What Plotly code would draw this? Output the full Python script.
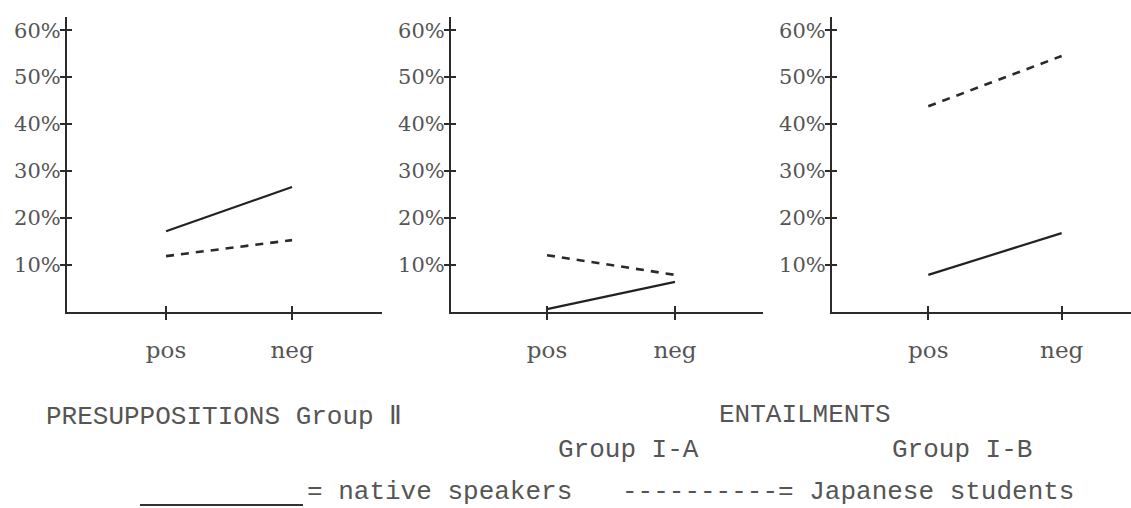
import plotly.graph_objects as go

W, H = 1131, 508

categories = ["pos", "neg"]
cat_x = [1, 2]
y_ticks = [10, 20, 30, 40, 50, 60]
y_tick_labels = ["10%", "20%", "30%", "40%", "50%", "60%"]

pres_native = [17.2, 26.6]
pres_japanese = [11.9, 15.3]
entA_native = [0.6, 6.4]
entA_japanese = [12.1, 7.9]
entB_native = [7.9, 16.8]
entB_japanese = [43.8, 54.5]

panel_native = [pres_native, entA_native, entB_native]
panel_japanese = [pres_japanese, entA_japanese, entB_japanese]

# layout geometry (pixels)
x_domains_px = [(67, 382), (451, 763), (832, 1131)]
x_ranges = [(0.214, 2.714), (0.25, 2.6875), (0.278, 2.52)]
y_dom = (1 - 312 / H, 1 - 17 / H)
y_range = (0, 62.8)

AX = "#2b2b2b"
TXT = "#555555"
MONO = "Liberation Mono, DejaVu Sans Mono, monospace"
SERIF = "DejaVu Serif, Liberation Serif, serif"

fig = go.Figure()
layout = dict(width=W, height=H, margin=dict(l=0, r=0, t=0, b=0, autoexpand=False),
              paper_bgcolor="white", plot_bgcolor="white", showlegend=False)

for i in range(3):
    n = i + 1
    xs = "" if n == 1 else str(n)
    ox, oy = str(n + 3), str(n + 3)
    fig.add_trace(go.Scatter(x=cat_x, y=panel_native[i], mode="lines",
                             line=dict(color="#222222", width=2.2),
                             xaxis="x" + xs, yaxis="y" + xs, hoverinfo="skip"))
    fig.add_trace(go.Scatter(x=cat_x, y=panel_japanese[i], mode="lines",
                             line=dict(color="#2a2a2a", width=2.6, dash="8px,7px"),
                             xaxis="x" + xs, yaxis="y" + xs, hoverinfo="skip"))
    fig.add_trace(go.Scatter(x=[None], y=[None], mode="lines",
                             xaxis="x" + ox, yaxis="y" + oy, hoverinfo="skip"))
    d0, d1 = x_domains_px[i]
    dom = [d0 / W, d1 / W]
    layout["xaxis" + xs] = dict(domain=dom, range=list(x_ranges[i]), anchor="y" + xs,
                                tickmode="array", tickvals=cat_x, ticktext=categories,
                                showline=True, linewidth=2, linecolor=AX,
                                ticks="outside", ticklen=6, tickwidth=2, tickcolor=AX,
                                showgrid=False, zeroline=False,
                                tickfont=dict(family=SERIF, size=23, color=TXT),
                                ticklabelstandoff=10)
    layout["yaxis" + xs] = dict(domain=list(y_dom), range=list(y_range), anchor="x" + xs,
                                tickmode="array", tickvals=y_ticks, ticktext=y_tick_labels,
                                showline=True, linewidth=2, linecolor=AX,
                                ticks="outside", ticklen=5, tickwidth=1.6, tickcolor=AX,
                                showgrid=False, zeroline=False,
                                tickfont=dict(family=SERIF, size=21, color=TXT),
                                ticklabelstandoff=-5)
    layout["xaxis" + ox] = dict(domain=dom, range=list(x_ranges[i]), anchor="y" + oy,
                                overlaying="x" + xs, tickmode="array", tickvals=cat_x,
                                showticklabels=False, showline=False, showgrid=False,
                                zeroline=False, ticks="inside", ticklen=6, tickwidth=2,
                                tickcolor=AX)
    layout["yaxis" + oy] = dict(domain=list(y_dom), range=list(y_range), anchor="x" + ox,
                                overlaying="y" + xs, tickmode="array", tickvals=y_ticks,
                                showticklabels=False, showline=False, showgrid=False,
                                zeroline=False, ticks="inside", ticklen=5, tickwidth=1.6,
                                tickcolor=AX)

fig.update_layout(**layout)


def px_ann(text, x, y, size=26):
    fig.add_annotation(text=text, x=x / W, y=1 - y / H, xref="paper", yref="paper",
                       xanchor="left", yanchor="middle", showarrow=False,
                       font=dict(family=MONO, size=size, color=TXT))


px_ann("PRESUPPOSITIONS Group Ⅱ", 44, 417)
px_ann("ENTAILMENTS", 717, 415)
px_ann("Group I-A", 556, 450)
px_ann("Group I-B", 890, 450)
px_ann("= native speakers", 305, 492)
px_ann("----------= Japanese students", 620, 492)

fig.add_shape(type="line", xref="paper", yref="paper",
              x0=140 / W, x1=303 / W, y0=1 - 505 / H, y1=1 - 505 / H,
              line=dict(color="#333333", width=2))

fig.write_html("out.html", config={"displayModeBar": False},
               post_script="document.body.style.margin='0';document.body.style.overflow='hidden';")
